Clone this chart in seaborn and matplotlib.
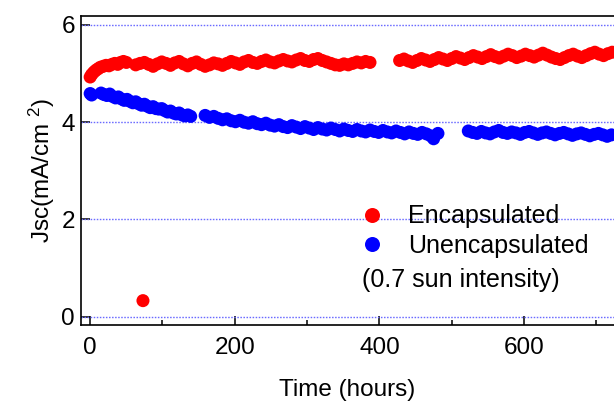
import matplotlib
matplotlib.use("Agg")
import matplotlib.pyplot as plt
import seaborn as sns
import pandas as pd
from matplotlib.lines import Line2D
from matplotlib.ticker import MultipleLocator

sns.set_theme(style="white")
plt.rcParams['font.family'] = ['Liberation Sans', 'DejaVu Sans']
plt.rcParams['mathtext.fontset'] = 'custom'
plt.rcParams['mathtext.rm'] = 'Liberation Sans'
plt.rcParams['mathtext.it'] = 'Liberation Sans:italic'
plt.rcParams['text.color'] = 'black'
plt.rcParams['axes.labelcolor'] = 'black'
plt.rcParams['xtick.color'] = 'black'
plt.rcParams['ytick.color'] = 'black'

# ---------------- data ----------------
enc_hours = [0, 2, 5, 8, 11, 14, 18, 22, 26, 30, 34, 38, 42, 46, 50,
             73,
             63, 69, 75, 81, 87, 93, 99, 105, 111, 117, 123, 129, 135, 141, 147,
             153, 159, 165, 171, 177, 183, 189, 195, 201, 207, 213, 219, 225, 231,
             237, 243, 249, 255, 261, 267, 273, 279, 285, 291, 297, 303, 309, 315,
             321, 327, 333, 339, 345, 351, 357, 363, 369, 375, 381, 387,
             428, 434, 440, 446, 452, 458, 464, 470, 476, 482, 488, 494, 500, 506,
             512, 518, 524, 530, 536, 542, 548, 554, 560, 566, 572, 578, 584, 590,
             596, 602, 608, 614, 620, 626, 632, 638, 644, 650, 656, 662, 668, 674,
             680, 686, 692, 698, 704, 710, 716, 722]
enc_jsc = [4.93, 4.98, 5.03, 5.07, 5.10, 5.13, 5.15, 5.17, 5.16, 5.19, 5.21, 5.19, 5.23, 5.25, 5.23,
           0.33,
           5.18, 5.21, 5.23, 5.19, 5.15, 5.20, 5.24, 5.21, 5.17, 5.22, 5.25, 5.20, 5.16, 5.21, 5.24,
           5.19, 5.15, 5.18, 5.22, 5.20, 5.17, 5.21, 5.25, 5.22, 5.19, 5.24, 5.27, 5.23, 5.21,
           5.25, 5.28, 5.24, 5.22, 5.26, 5.29, 5.26, 5.24, 5.28, 5.31, 5.27, 5.25, 5.29, 5.31,
           5.27, 5.24, 5.21, 5.18, 5.17, 5.20, 5.18, 5.21, 5.24, 5.22, 5.25, 5.23,
           5.27, 5.30, 5.26, 5.23, 5.27, 5.31, 5.28, 5.25, 5.29, 5.33, 5.30, 5.27, 5.31, 5.35,
           5.32, 5.29, 5.33, 5.37, 5.34, 5.31, 5.35, 5.39, 5.35, 5.32, 5.36, 5.40, 5.37, 5.33,
           5.36, 5.40, 5.37, 5.34, 5.38, 5.42, 5.38, 5.34, 5.31, 5.29, 5.33, 5.37, 5.40, 5.36,
           5.33, 5.37, 5.41, 5.44, 5.40, 5.37, 5.41, 5.44]

unenc_hours = [0, 2,
               15, 19, 23, 27, 31, 35, 39, 43, 47, 51, 55, 59, 63, 67, 71, 75, 79, 83,
               87, 91, 95, 99, 103, 107, 111, 115, 119, 123, 127, 131, 135, 139,
               159, 165, 171, 177, 183, 189, 195, 201, 207, 213, 219, 225, 231, 237,
               243, 249, 255, 261, 267, 273, 279, 285, 291, 297, 303, 309, 315, 321,
               327, 333, 339, 345, 351, 357, 363, 369, 375, 381, 387, 393, 399, 405,
               411, 417, 423, 429, 435, 441, 447, 453, 459, 465, 471, 475, 481,
               523, 529, 535, 541, 547, 553, 559, 565, 571, 577, 583, 589, 595, 601,
               607, 613, 619, 625, 631, 637, 643, 649, 655, 661, 667, 673, 679, 685,
               691, 697, 703, 709, 715, 721]
unenc_jsc = [4.59, 4.56,
             4.60, 4.57, 4.55, 4.58, 4.53, 4.50, 4.52, 4.48, 4.45, 4.47, 4.43, 4.40, 4.42, 4.38, 4.35, 4.37, 4.33, 4.30,
             4.32, 4.28, 4.27, 4.28, 4.24, 4.21, 4.23, 4.19, 4.17, 4.19, 4.15, 4.13, 4.15, 4.12,
             4.14, 4.10, 4.12, 4.08, 4.05, 4.07, 4.03, 4.01, 4.04, 4.00, 3.98, 4.01, 3.97, 3.95,
             3.98, 3.94, 3.92, 3.95, 3.91, 3.89, 3.93, 3.90, 3.87, 3.91, 3.88, 3.85, 3.89, 3.86,
             3.84, 3.88, 3.85, 3.82, 3.86, 3.83, 3.81, 3.85, 3.82, 3.80, 3.84, 3.81, 3.79, 3.83,
             3.80, 3.78, 3.82, 3.79, 3.76, 3.80, 3.77, 3.75, 3.79, 3.76, 3.72, 3.66, 3.77,
             3.82, 3.79, 3.77, 3.81, 3.78, 3.76, 3.80, 3.83, 3.79, 3.77, 3.80, 3.78, 3.75, 3.79,
             3.81, 3.78, 3.75, 3.78, 3.80, 3.77, 3.74, 3.77, 3.79, 3.76, 3.73, 3.76, 3.78, 3.75,
             3.72, 3.75, 3.77, 3.74, 3.71, 3.74]

series_names = ['Encapsulated', 'Unencapsulated']
series_colors = ['#ff0000', '#0000ff']
y_ticks = [0, 2, 4, 6]
x_ticks = [0, 200, 400, 600]
note_text = '(0.7 sun intensity)'

df = pd.DataFrame({
    'Time': enc_hours + unenc_hours,
    'Jsc': enc_jsc + unenc_jsc,
    'Sample': [series_names[0]] * len(enc_hours) + [series_names[1]] * len(unenc_hours),
})

# ---------------- figure ----------------
W, H = 614, 401
fig = plt.figure(figsize=(W / 100, H / 100), dpi=100)
ax = fig.add_axes([81 / W, (H - 325) / H, (W - 81) / W, (325 - 16) / H])

for yv in y_ticks:
    ax.axhline(yv, color='#6a6aff', lw=1.0, ls=(0, (1.1, 1.1)), zorder=1)

sns.scatterplot(data=df, x='Time', y='Jsc', hue='Sample',
                palette=dict(zip(series_names, series_colors)),
                s=88, linewidth=0, legend=False, ax=ax, zorder=3)

ax.set_xlim(-12.7, 724.5)
ax.set_ylim(-0.171, 6.185)
ax.set_xticks(x_ticks)
ax.set_xticklabels([str(v) for v in x_ticks])
ax.xaxis.set_minor_locator(MultipleLocator(100))
ax.set_yticks(y_ticks)
ax.set_yticklabels([str(v) for v in y_ticks])

ax.tick_params(axis='both', which='both', direction='in', colors='black',
               width=1.1, bottom=True, left=True, top=False, right=False)
ax.tick_params(axis='both', which='major', length=6.5, labelsize=17.5)
ax.tick_params(axis='x', which='major', pad=9)
ax.tick_params(axis='y', which='major', pad=4.3)
ax.tick_params(axis='x', which='minor', length=3.6)

for side in ['left', 'bottom', 'top']:
    ax.spines[side].set_visible(True)
    ax.spines[side].set_color('black')
    ax.spines[side].set_linewidth(1.2)
ax.spines['right'].set_visible(False)

ax.set_xlabel('Time (hours)', fontsize=17.5, labelpad=14, color='black')
ax.set_ylabel(r'Jsc(mA/cm $^{2}$)', fontsize=17.5, labelpad=3, color='black')

handles = [Line2D([], [], marker='o', ls='none', color=c, markersize=10.8,
                  markeredgewidth=0) for c in series_colors]
leg = fig.legend(handles, series_names, loc='center left',
                 bbox_to_anchor=(359.5 / W, (H - 231) / H),
                 frameon=False, fontsize=18, handlelength=1.0, handletextpad=0.94,
                 borderpad=0, borderaxespad=0, labelspacing=0.2)
for t in leg.get_texts():
    t.set_color('black')
fig.text(362 / W, (H - 287) / H, note_text, fontsize=18, va='baseline', ha='left',
         color='black')

fig.savefig('out.png', dpi=100)
